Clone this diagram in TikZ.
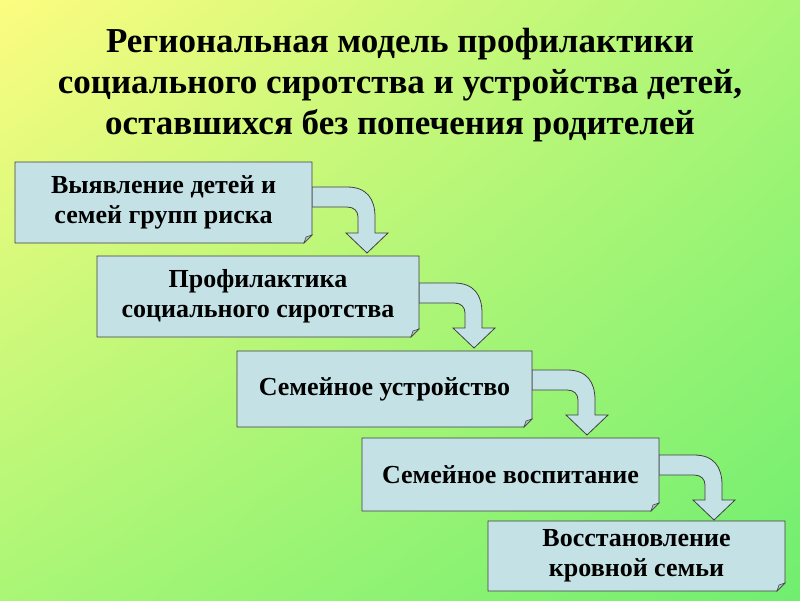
\documentclass[tikz,border=0pt]{standalone}
\usepackage{fontspec}
\setmainfont{Liberation Serif}
\usetikzlibrary{shadings}
\begin{document}
\begin{tikzpicture}[x=1pt,y=-1pt,
  boxtext/.style={font=\bfseries\fontsize{26}{30}\selectfont,align=center,text=black}]
\definecolor{bx}{RGB}{196,226,230}
\definecolor{yel}{RGB}{252,252,128}
\definecolor{grn}{RGB}{112,238,112}
\definecolor{mid}{RGB}{170,246,118}
\useasboundingbox (0,0) rectangle (800,600);
\shade[upper left=yel,upper right=mid,lower left=mid,lower right=grn] (0,0) rectangle (800,600);
\node[font=\bfseries\fontsize{35}{41}\selectfont,align=center] (title) at (400,85)
 {Региональная модель профилактики\\социального сиротства и устройства детей,\\оставшихся без попечения родителей};
\newcommand\foldbox[5]{% name,x1,y1,x2,y2
 \path[fill=bx,draw=black!75,line width=0.8pt] (#2,#3) -- (#4,#3) -- (#4,#5-8) -- (#4-8,#5) -- (#2,#5) -- cycle;
 \path[fill=bx!70!gray,draw=black!75,line width=0.6pt] (#4,#5-8) -- (#4-6,#5-6) -- (#4-8,#5) -- cycle;
 \coordinate (#1) at ({(#2+#4)/2},{(#3+#5)/2});}
\newcommand\bent[3]{% x, y(top of band), tip y
 \path[fill=bx,draw=black!75,line width=0.8pt] (#1,#2) -- (#1+35,#2) .. controls (#1+55,#2) and (#1+63,#2+12) .. (#1+63,#2+30)
 -- (#1+63,#3-20) -- (#1+76,#3-20) -- (#1+55,#3) -- (#1+34,#3-20) -- (#1+46,#3-20) -- (#1+46,#2+30)
 .. controls (#1+46,#2+24) and (#1+42,#2+20) .. (#1+35,#2+20) -- (#1,#2+20) -- cycle;}
\bent{312}{187}{253}
\bent{419}{283}{348}
\bent{532}{370}{435}
\bent{659}{455}{520}
\foldbox{b1}{15}{162}{312}{243}
\foldbox{b2}{97}{256}{419}{337}
\foldbox{b3}{237}{351}{532}{427}
\foldbox{b4}{362}{438}{659}{511}
\foldbox{b5}{488}{521}{785}{591}
\node[boxtext] (t1) at (b1) {Выявление детей и\\семей групп риска};
\node[boxtext] (t2) at (b2) {Профилактика\\социального сиротства};
\node[boxtext] (t3) at (b3) {Семейное устройство};
\node[boxtext] (t4) at (b4) {Семейное воспитание};
\node[boxtext] (t5) at (b5) {Восстановление\\кровной семьи};
\end{tikzpicture}
\end{document}
